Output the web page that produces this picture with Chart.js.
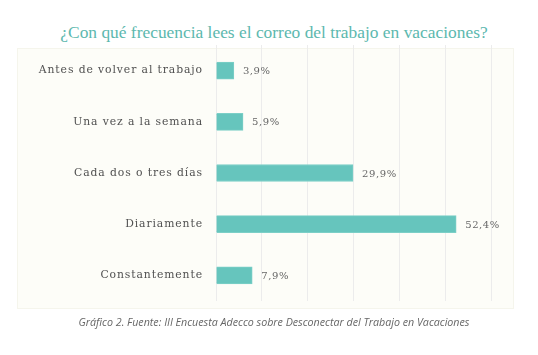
<!DOCTYPE html>
<html><head><meta charset="utf-8">
<script src="https://cdn.jsdelivr.net/npm/chart.js@4/dist/chart.umd.min.js"></script>
<style>
html,body{margin:0;padding:0;background:#fff;width:538px;height:355px;overflow:hidden;position:relative}
#title{position:absolute;left:0;width:548px;top:22px;text-align:center;font-family:"Liberation Serif",serif;font-size:17.4px;color:#5cb8ae;white-space:nowrap}
#panel{position:absolute;left:17px;top:48px;width:495px;height:259px;background:#fdfdf8;border:1px solid #f5f5ec}
#foot{position:absolute;left:0;width:548px;top:315px;text-align:center;font-family:"Open Sans",sans-serif;font-style:italic;font-size:10.7px;color:#666;white-space:nowrap}
#wrap{position:absolute;left:0;top:0;width:538px;height:355px}
</style></head>
<body>
<div id="title">¿Con qué frecuencia lees el correo del trabajo en vacaciones?</div>
<div id="panel"></div>
<div id="wrap"><canvas id="c" width="538" height="355"></canvas></div>
<div id="foot">Gráfico 2. Fuente: III Encuesta Adecco sobre Desconectar del Trabajo en Vacaciones</div>
<script>
const categories = ["Antes de volver al trabajo","Una vez a la semana","Cada dos o tres días","Diariamente","Constantemente"];
const values = [3.9, 5.9, 29.9, 52.4, 7.9];
const valueLabels = ["3,9%","5,9%","29,9%","52,4%","7,9%"];

const spacingPlugin = {
  id:'spacing',
  beforeLayout(chart){ chart.ctx.letterSpacing = '0.9px'; },
  beforeDraw(chart){ chart.ctx.letterSpacing = '0.9px'; },
  afterDraw(chart){ chart.ctx.letterSpacing = '0px'; }
};

const labelPlugin = {
  id:'vals',
  afterDatasetsDraw(chart){
    const ctx = chart.ctx;
    const meta = chart.getDatasetMeta(0);
    ctx.save();
    ctx.letterSpacing = '0.6px';
    ctx.font = '10px "DejaVu Serif", serif';
    ctx.fillStyle = '#666';
    ctx.textBaseline = 'middle';
    ctx.textAlign = 'left';
    meta.data.forEach((bar,i)=>{
      ctx.fillText(valueLabels[i], bar.x + 9, bar.y + 1);
    });
    ctx.restore();
  }
};

new Chart(document.getElementById('c'), {
  type:'bar',
  data:{labels:categories, datasets:[{data:values, backgroundColor:'#66c5bd', borderColor:'#7ccfc7', borderWidth:1, barThickness:17}]},
  options:{
    indexAxis:'y',
    responsive:false,
    animation:false,
    events:[],
    layout:{padding:{left:0,right:47,top:45,bottom:54}},
    plugins:{legend:{display:false},tooltip:{enabled:false}},
    scales:{
      x:{min:0,max:60,ticks:{display:false,stepSize:10},border:{display:false},
         grid:{color:'#ececec',lineWidth:1,drawTicks:false},
         afterFit(s){s.height=0;}},
      y:{grid:{display:false},border:{display:false},
         ticks:{color:'#505050',padding:5,font:{family:'"DejaVu Serif", serif',size:10.8}},
         afterFit(s){s.width=216;}}
    }
  },
  plugins:[spacingPlugin,labelPlugin]
});
</script>
</body></html>
